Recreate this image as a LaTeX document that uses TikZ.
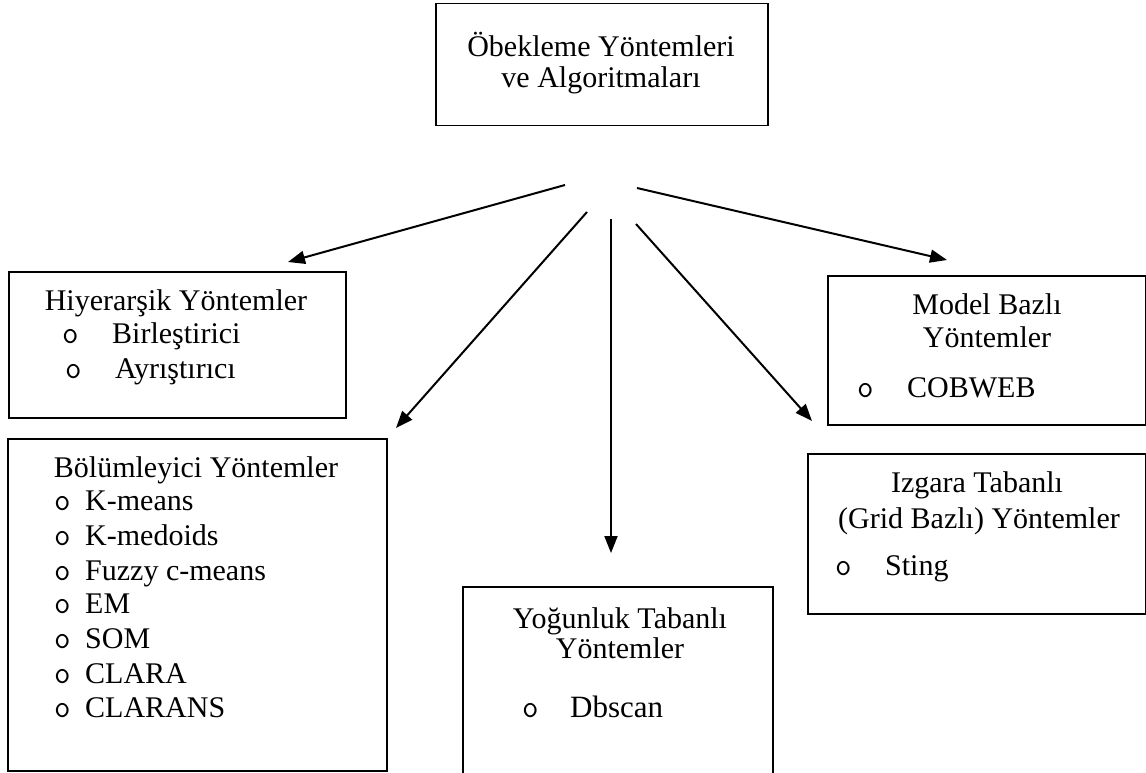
\documentclass[tikz,border=0pt]{standalone}
\usepackage{fontspec}
\setmainfont{Liberation Serif}
\usetikzlibrary{arrows.meta}
\newcommand\mysz{\fontsize{30}{35}\selectfont}
\newcommand\bulsz{\ttfamily\fontsize{32}{32}\selectfont}
\begin{document}
\begin{tikzpicture}[x=1pt,y=-1pt,
  box/.style={draw, line width=1.5pt, inner sep=0pt, anchor=north west},
  ttl/.style={inner sep=0pt, anchor=base, font=\mysz},
  itm/.style={inner sep=0pt, anchor=base west, font=\mysz},
  bul/.style={inner sep=0pt, anchor=base west, font=\bulsz},
  arr/.style={line width=2pt, -{Triangle[length=17pt,width=13pt]}}]
\useasboundingbox (0,0) rectangle (1146,773);

% boxes
\node[box, minimum width=332pt, minimum height=122pt] (root) at (435,3) {};
\node[box, minimum width=337pt, minimum height=146pt] (hier) at (8,271) {};
\node[box, minimum width=379pt, minimum height=332pt] (bol) at (7,438) {};
\node[box, minimum width=310pt, minimum height=200pt] (yog) at (462,586) {};
\node[box, minimum width=318pt, minimum height=149pt] (model) at (827,275) {};
\node[box, minimum width=338pt, minimum height=160pt] (izg) at (807,453) {};

% root text
\node[ttl] (r1) at (601,57) {Öbekleme Yöntemleri};
\node[ttl] (r2) at (601,88) {ve Algoritmaları};

% hierarchical
\node[ttl] (h0) at (176,310) {Hiyerarşik Yöntemler};
\node[bul] (hb1) at (62,343) {o};
\node[itm] (h1) at (112,343) {Birleştirici};
\node[bul] (hb2) at (65,378) {o};
\node[itm] (h2) at (115,378) {Ayrıştırıcı};

% partitioning
\node[ttl] (b0) at (196,477) {Bölümleyici Yöntemler};
\foreach \t/\y [count=\i] in {K-means/510, K-medoids/545, Fuzzy c-means/580, EM/613, SOM/648, CLARA/683, CLARANS/717}{
  \node[bul] (bb\i) at (54,\y) {o};
  \node[itm] (b\i) at (85,\y) {\t};
}

% density
\node[ttl] (y1) at (620,628) {Yoğunluk Tabanlı};
\node[ttl] (y2) at (620,658) {Yöntemler};
\node[bul] (yb) at (522,717) {o};
\node[itm, font=\fontsize{31}{35}\selectfont] (y3) at (570,717) {Dbscan};

% model
\node[ttl] (m1) at (987,314) {Model Bazlı};
\node[ttl] (m2) at (987,347) {Yöntemler};
\node[bul] (mb) at (857,397) {o};
\node[itm] (m3) at (907,397) {COBWEB};

% grid
\node[ttl] (g1) at (977,492) {Izgara Tabanlı};
\node[ttl] (g2) at (979,528) {(Grid Bazlı) Yöntemler};
\node[bul] (gb) at (835,575) {o};
\node[itm] (g3) at (885,575) {Sting};

% arrow ends
\coordinate (s1) at (565,185);
\coordinate (t1) at (288,262);
\coordinate (s2) at (587,212);
\coordinate (t2) at (396,428);
\coordinate (s3) at (611,219);
\coordinate (t3) at (611,553);
\coordinate (s4) at (636,224);
\coordinate (t4) at (812,421);
\coordinate (s5) at (637,188);
\coordinate (t5) at (947,260);

\draw[arr] (s1) -- (t1);
\draw[arr] (s2) -- (t2);
\draw[arr] (s3) -- (t3);
\draw[arr] (s4) -- (t4);
\draw[arr] (s5) -- (t5);
\end{tikzpicture}
\end{document}
